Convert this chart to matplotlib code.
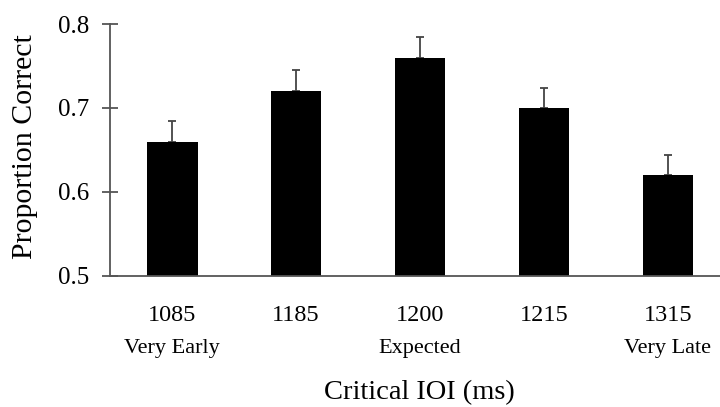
import matplotlib
matplotlib.use('Agg')
import matplotlib.pyplot as plt
import matplotlib.transforms as mtransforms
import numpy as np

# data
ioi_labels = ['1085', '1185', '1200', '1215', '1315']
timing_labels = ['Very Early', '', 'Expected', '', 'Very Late']
prop_correct = [0.66, 0.72, 0.76, 0.70, 0.62]
sem = [0.024, 0.025, 0.024, 0.024, 0.024]

plt.rcParams['font.family'] = ['Liberation Serif', 'DejaVu Serif']

fig = plt.figure(figsize=(7.2, 4.07), dpi=100)
ax = fig.add_axes([0.153, 0.322, 0.847, 0.619])

x = np.arange(len(ioi_labels))
ax.bar(x, prop_correct, width=0.41, color='black', zorder=2)
ax.errorbar(x, prop_correct, yerr=[np.zeros(len(sem)), sem], fmt='none',
            ecolor='#444444', elinewidth=1.3, capsize=3, capthick=1.3, zorder=1)

ax.set_ylim(0.5, 0.8)
ax.set_xlim(-0.5, 4.42)
ax.set_yticks([0.5, 0.6, 0.7, 0.8])
ax.set_yticklabels(['0.5', '0.6', '0.7', '0.8'], fontsize=18)
ax.set_xticks(x)
ax.set_xticklabels(ioi_labels, fontsize=17.5)

for side in ['top', 'right']:
    ax.spines[side].set_visible(False)
for side in ['left', 'bottom']:
    ax.spines[side].set_color('#555555')
    ax.spines[side].set_linewidth(1.3)

ax.tick_params(axis='y', direction='inout', length=12, width=1.3, color='#555555', pad=9)
ax.tick_params(axis='x', length=0, pad=21)

# second row of labels under the IOI values
trans = mtransforms.blended_transform_factory(ax.transData, fig.transFigure)
for xi, lab in zip(x, timing_labels):
    if lab:
        ax.text(xi, 1 - 348 / 407, lab, transform=trans, ha='center', va='center', fontsize=16)

ax.set_ylabel('Proportion Correct', fontsize=21.5, va='center')
# set_ylabel resets the position, so place it afterwards
ax.yaxis.set_label_coords(25 / 720, (407 - 147) / 407, transform=fig.transFigure)
fig.text(0.583, 1 - 393 / 407, 'Critical IOI (ms)', ha='center', va='center', fontsize=20.5)

fig.savefig('out.png', dpi=100)
